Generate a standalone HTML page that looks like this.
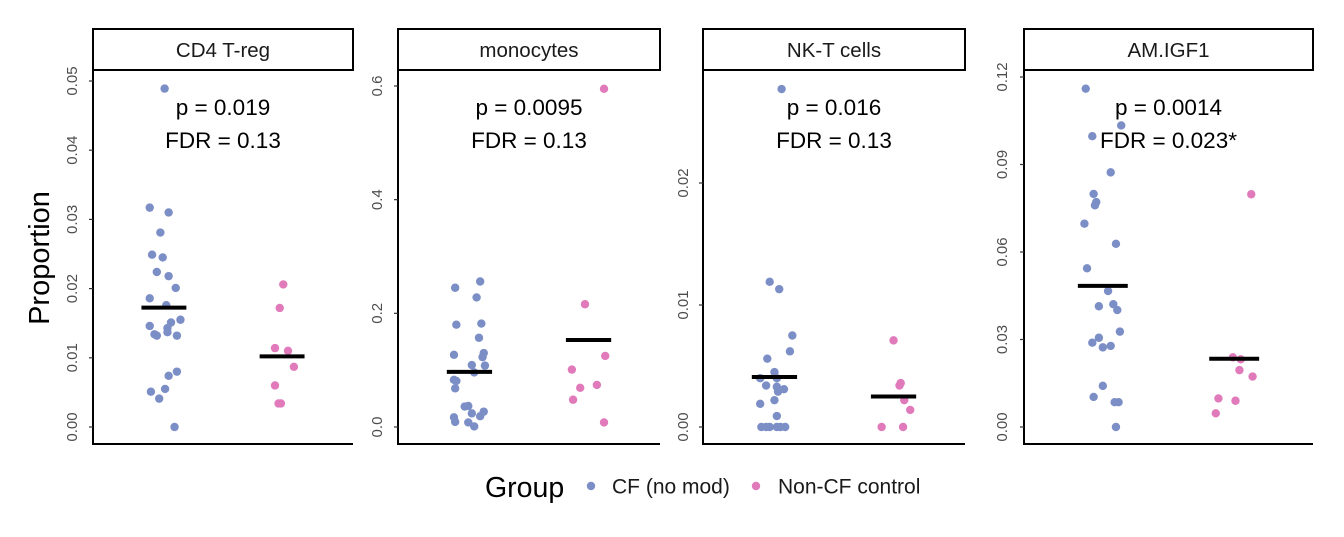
<!DOCTYPE html>
<html><head><meta charset="utf-8"><style>
body{margin:0;background:#fff;}
svg{display:block;font-family:"Liberation Sans",Arial,sans-serif;}
</style></head><body>
<svg id="chart" width="1344" height="537" viewBox="0 0 1344 537"></svg>
<script>
// ---- data ----
const panelTitles = ["CD4 T-reg","monocytes","NK-T cells","AM.IGF1"];
const pLabels = ["p = 0.019","p = 0.0095","p = 0.016","p = 0.0014"];
const fdrLabels = ["FDR = 0.13","FDR = 0.13","FDR = 0.13","FDR = 0.023*"];
const groups = ["CF (no mod)","Non-CF control"];
const tickValues = [[0,0.01,0.02,0.03,0.04,0.05],[0,0.2,0.4,0.6],[0,0.01,0.02],[0,0.03,0.06,0.09,0.12]];
const tickLabels = [["0.00","0.01","0.02","0.03","0.04","0.05"],["0.0","0.2","0.4","0.6"],["0.00","0.01","0.02"],["0.00","0.03","0.06","0.09","0.12"]];
const yMax = [0.05,0.6,0.02,0.12];
const cfValues = [
 [0.0489,0.0317,0.0310,0.0281,0.0249,0.0245,0.0224,0.0218,0.0201,0.0186,0.0176,0.0155,0.0151,0.0146,0.0143,0.0137,0.0134,0.0132,0.0132,0.0080,0.0074,0.0055,0.0051,0.0041,0],
 [0.245,0.256,0.228,0.180,0.182,0.157,0.127,0.130,0.123,0.109,0.108,0.096,0.083,0.081,0.068,0.036,0.037,0.024,0.027,0.019,0.017,0.009,0.008,0.001],
 [0.0277,0.0119,0.0113,0.0075,0.0062,0.0056,0.0045,0.0040,0.0040,0.0034,0.0033,0.0031,0.0029,0.0022,0.0019,0.0009,0,0,0,0,0,0],
 [0.116,0.1034,0.0997,0.0873,0.0799,0.0771,0.0760,0.0697,0.0628,0.0544,0.0466,0.0414,0.0421,0.0401,0.0327,0.0306,0.0289,0.0273,0.0278,0.0141,0.0103,0.0085,0.0085,0]
];
const cfJitter = [
 [0.006,-0.12,0.04,-0.03,-0.10,-0.01,-0.06,0.04,0.10,-0.12,0.02,0.14,0.06,-0.12,0.03,0.03,-0.08,-0.06,0.11,0.11,0.04,0.01,-0.11,-0.04,0.09],
 [-0.12,0.09,0.06,-0.11,0.10,0.08,-0.13,0.12,0.11,0.02,0.13,0.04,-0.13,-0.11,-0.12,-0.04,-0.01,0.02,0.12,0.09,-0.13,-0.12,-0.01,0.04],
 [0.06,-0.04,0.04,0.15,0.13,-0.06,0,-0.12,0.02,-0.07,0.02,0.08,0.03,0,-0.12,0.02,-0.11,-0.07,-0.04,0.02,0.05,0.09],
 [-0.13,0.14,-0.08,0.06,-0.07,-0.05,-0.06,-0.14,0.10,-0.12,0.04,-0.03,0.08,0.11,0.13,-0.03,-0.08,0,0.06,0,-0.07,0.09,0.12,0.10]
];
const ncValues = [
 [0.0206,0.0172,0.0114,0.0110,0.0087,0.0060,0.0034,0.0034],
 [0.595,0.216,0.125,0.101,0.074,0.069,0.048,0.008],
 [0.0071,0.0036,0.0034,0.0022,0.0014,0,0],
 [0.0798,0.0239,0.0232,0.0195,0.0173,0.0098,0.0090,0.0047]
];
const ncJitter = [
 [0.01,-0.02,-0.06,0.05,0.10,-0.06,-0.03,-0.01],
 [0.13,-0.03,0.14,-0.14,0.07,-0.07,-0.13,0.13],
 [0,0.06,0.05,0.09,0.14,-0.10,0.08],
 [0.13,-0.01,0.05,0.04,0.14,-0.12,0.01,-0.14]
];
const cfMedian = [0.01725,0.097,0.0041,0.0484];
const ncMedian = [0.0102,0.153,0.0025,0.0234];

// ---- layout ----
const panelLeft = [93,398,703,1024];
const panelRight = [353,660,965,1313];
const labelX = [72,377,683,1002];
const yZero = 427, plotTop = 70, plotBottom = 444;
const yTopPix = [81,86,183,77];
const colors = ["#7b8ec6","#e07abb"];
const NS = "http://www.w3.org/2000/svg";
const svg = document.getElementById('chart');
function mk(tag, attrs, parent){const e=document.createElementNS(NS,tag);for(const k in attrs)e.setAttribute(k,attrs[k]);(parent||svg).appendChild(e);return e;}

for(let p=0;p<4;p++){
  const L=panelLeft[p], R=panelRight[p];
  const g=mk('g',{});
  
  
  const yScale=v=>yZero-(v/yMax[p])*(yZero-yTopPix[p]);
  const xScale=c=>L+(c-0.4)/2.2*(R-L);
  const strip=mk('rect',{x:L,y:29,width:R-L,height:41,fill:'#fff',stroke:'#000','stroke-width':2},g);
  
  
  const st=mk('text',{x:(L+R)/2,y:57,'text-anchor':'middle','font-size':20.5,fill:'#1a1a1a'},g);
  st.textContent=panelTitles[p];
  
  
  const ya=mk('line',{x1:L,y1:plotTop,x2:L,y2:plotBottom+1,stroke:'#000','stroke-width':2},g);
  
  
  const xa=mk('line',{x1:L-1,y1:plotBottom,x2:R,y2:plotBottom,stroke:'#000','stroke-width':2},g);
  
  
  tickValues[p].forEach((v,i)=>{
    const y=yScale(v);
    const t=mk('line',{x1:L-4,y1:y,x2:L,y2:y,stroke:'#333','stroke-width':1.2},g);
    
    
    const tl=mk('text',{x:labelX[p],y:y,'text-anchor':'middle','font-size':15,fill:'#4d4d4d',transform:`rotate(-90 ${labelX[p]} ${y})`,dy:'5'},g);
    tl.textContent=tickLabels[p][i];
    
    
  });
  [[cfValues,cfJitter,1,0],[ncValues,ncJitter,2,1]].forEach(([vals,jit,cat,ci])=>{
    vals[p].forEach((v,i)=>{
      const c=mk('circle',{cx:xScale(cat+jit[p][i]),cy:yScale(v),r:4.2,fill:colors[ci]},g);
      
      
    });
  });
  [[cfMedian,1],[ncMedian,2]].forEach(([m,cat])=>{
    const y=yScale(m[p]);
    const ml=mk('line',{x1:xScale(cat-0.19),y1:y,x2:xScale(cat+0.19),y2:y,stroke:'#000','stroke-width':4},g);
    
    
  });
  const pt=mk('text',{x:(L+R)/2,y:115,'text-anchor':'middle','font-size':22.5,fill:'#000'},g);
  pt.textContent=pLabels[p];
  
  
  const ft=mk('text',{x:(L+R)/2,y:148,'text-anchor':'middle','font-size':22.5,fill:'#000'},g);
  ft.textContent=fdrLabels[p];
  
  
}
const yt=mk('text',{x:49,y:258,'text-anchor':'middle','font-size':29,fill:'#000',transform:'rotate(-90 49 258)'});
yt.textContent='Proportion';


const lg=mk('g',{});


const lt=mk('text',{x:485,y:497,'font-size':28.5,fill:'#000'},lg);
lt.textContent='Group';


const legX=[591,756], legTX=[612,778];
groups.forEach((gname,i)=>{
  const d=mk('circle',{cx:legX[i],cy:486,r:4.2,fill:colors[i]},lg);
  
  
  const t=mk('text',{x:legTX[i],y:493.5,'font-size':21,fill:'#1a1a1a'},lg);
  t.textContent=gname;
  
  
});
</script>
</body></html>
